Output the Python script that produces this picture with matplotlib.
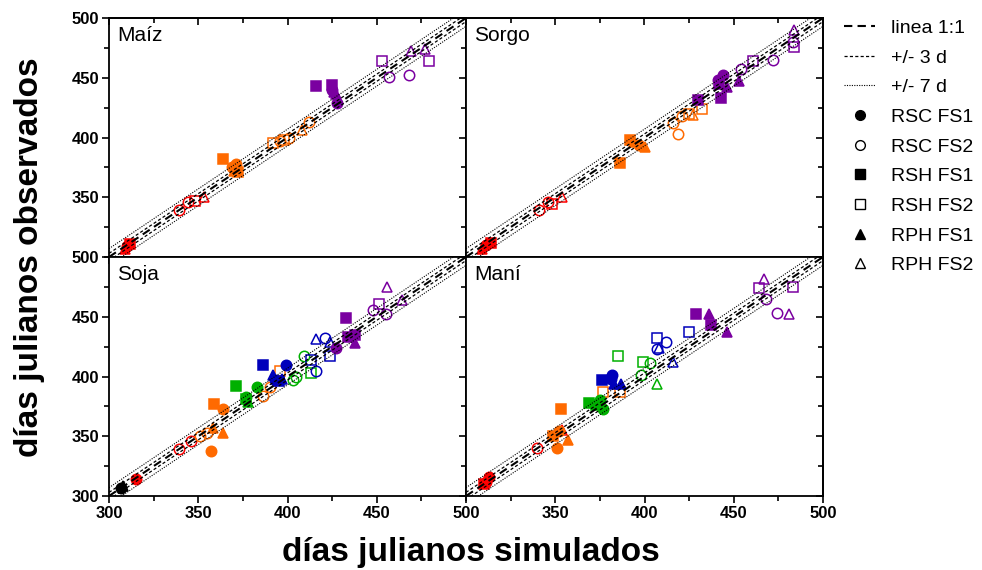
import numpy as np
import matplotlib
matplotlib.use('Agg')
import matplotlib.pyplot as plt
from matplotlib.lines import Line2D
from matplotlib.ticker import MultipleLocator

plt.rcParams['font.family'] = ['Liberation Sans', 'DejaVu Sans']

# colores por etapa fenologica
stage_colors = {'k': '#000000', 'r': '#ff0000', 'o': '#ff6a00',
                'g': '#00b000', 'b': '#0000bb', 'p': '#7a00a0'}

series_names = ['RSC FS1', 'RSC FS2', 'RSH FS1', 'RSH FS2', 'RPH FS1', 'RPH FS2']
series_marker = {'RSC': 'o', 'RSH': 's', 'RPH': '^'}

# (etapa, serie, simulado, observado)
maiz = [
    ('r', 'RSC FS1', 310, 309), ('r', 'RSH FS1', 312, 311), ('r', 'RPH FS1', 309, 307),
    ('r', 'RSC FS2', 339, 339), ('r', 'RSC FS2', 344, 346), ('r', 'RSH FS2', 348, 347),
    ('r', 'RPH FS2', 353, 350),
    ('o', 'RSH FS1', 364, 382), ('o', 'RSC FS1', 371, 378), ('o', 'RPH FS1', 370, 372),
    ('o', 'RSH FS1', 372, 371), ('o', 'RSC FS1', 369, 375),
    ('o', 'RSH FS2', 392, 395), ('o', 'RSC FS2', 396, 397), ('o', 'RSC FS2', 401, 400),
    ('o', 'RPH FS2', 408, 406), ('o', 'RSC FS2', 412, 413), ('o', 'RSH FS2', 398, 398),
    ('p', 'RSH FS1', 416, 443), ('p', 'RSH FS1', 425, 444), ('p', 'RSC FS1', 425, 440),
    ('p', 'RPH FS1', 427, 436), ('p', 'RSC FS1', 428, 429), ('p', 'RPH FS1', 426, 438),
    ('p', 'RSH FS2', 453, 464), ('p', 'RSC FS2', 457, 451), ('p', 'RSC FS2', 468, 452),
    ('p', 'RPH FS2', 469, 472), ('p', 'RPH FS2', 477, 474), ('p', 'RSH FS2', 479, 464),
]

sorgo = [
    ('r', 'RSC FS1', 311, 310), ('r', 'RPH FS1', 309, 307), ('r', 'RSH FS1', 314, 312),
    ('r', 'RSC FS2', 341, 339), ('r', 'RSC FS2', 346, 346), ('r', 'RSH FS2', 348, 344),
    ('r', 'RPH FS2', 354, 350),
    ('o', 'RSH FS1', 386, 379), ('o', 'RSH FS1', 392, 398), ('o', 'RPH FS1', 394, 396),
    ('o', 'RSC FS1', 397, 394), ('o', 'RPH FS1', 400, 392),
    ('o', 'RSC FS2', 416, 412), ('o', 'RSC FS2', 419, 403), ('o', 'RSC FS2', 421, 418),
    ('o', 'RPH FS2', 427, 419), ('o', 'RSH FS2', 432, 424), ('o', 'RSH FS2', 425, 420),
    ('p', 'RSH FS1', 430, 431), ('p', 'RSH FS1', 443, 433), ('p', 'RSC FS1', 444, 452),
    ('p', 'RSH FS1', 442, 445), ('p', 'RPH FS1', 446, 442), ('p', 'RPH FS1', 453, 447),
    ('p', 'RSC FS1', 441, 448),
    ('p', 'RSC FS2', 454, 457), ('p', 'RSH FS2', 461, 464), ('p', 'RSC FS2', 472, 465),
    ('p', 'RPH FS2', 484, 490), ('p', 'RSH FS2', 484, 476), ('p', 'RSC FS2', 483, 480),
]

soja = [
    ('k', 'RPH FS1', 308, 308), ('k', 'RSC FS1', 307, 307),
    ('r', 'RSC FS1', 315, 314),
    ('r', 'RSC FS2', 339, 339), ('r', 'RSC FS2', 346, 346),
    ('o', 'RSC FS2', 351, 350), ('o', 'RSC FS2', 355, 353), ('o', 'RSC FS2', 386, 384),
    ('o', 'RSC FS2', 390, 391), ('o', 'RSH FS2', 396, 405),
    ('o', 'RSC FS1', 357, 338), ('o', 'RPH FS1', 364, 353), ('o', 'RSH FS1', 359, 377),
    ('o', 'RSC FS1', 364, 373), ('o', 'RPH FS1', 358, 357),
    ('g', 'RSH FS1', 371, 392), ('g', 'RSC FS1', 377, 383), ('g', 'RSC FS1', 383, 391),
    ('g', 'RPH FS1', 378, 379), ('g', 'RSH FS1', 377, 381),
    ('b', 'RSH FS1', 386, 410), ('b', 'RSC FS1', 399, 410), ('b', 'RPH FS1', 392, 401),
    ('b', 'RSH FS1', 395, 396), ('b', 'RPH FS1', 397, 398), ('b', 'RSC FS1', 393, 397),
    ('g', 'RSC FS2', 403, 397), ('g', 'RSC FS2', 409, 417), ('g', 'RSH FS2', 413, 403),
    ('g', 'RSC FS2', 405, 400),
    ('b', 'RSC FS2', 416, 405), ('b', 'RSH FS2', 413, 414), ('b', 'RPH FS2', 416, 431),
    ('b', 'RSC FS2', 421, 432), ('b', 'RPH FS2', 424, 429), ('b', 'RSH FS2', 424, 417),
    ('p', 'RSH FS1', 433, 449), ('p', 'RSC FS1', 427, 424), ('p', 'RSH FS1', 434, 433),
    ('p', 'RSH FS1', 438, 435), ('p', 'RPH FS1', 438, 428), ('p', 'RSC FS1', 436, 434),
    ('p', 'RSC FS2', 448, 456), ('p', 'RSH FS2', 451, 461), ('p', 'RSC FS2', 455, 452),
    ('p', 'RPH FS2', 456, 475), ('p', 'RPH FS2', 464, 464),
]

mani = [
    ('r', 'RSC FS1', 311, 312), ('r', 'RSC FS1', 313, 316), ('r', 'RSH FS1', 310, 310),
    ('r', 'RSC FS2', 340, 340), ('r', 'RPH FS2', 354, 355),
    ('o', 'RSH FS1', 353, 373), ('o', 'RSH FS1', 349, 350), ('o', 'RSC FS1', 351, 340),
    ('o', 'RSC FS1', 352, 354), ('o', 'RPH FS1', 357, 347),
    ('o', 'RSH FS2', 377, 387), ('o', 'RSH FS2', 386, 387),
    ('g', 'RSH FS1', 369, 378), ('g', 'RSC FS1', 375, 380), ('g', 'RSC FS1', 377, 373),
    ('g', 'RSH FS1', 373, 376),
    ('b', 'RSH FS1', 376, 397), ('b', 'RSC FS1', 382, 401), ('b', 'RPH FS1', 383, 394),
    ('b', 'RPH FS1', 387, 394), ('b', 'RSC FS1', 381, 398),
    ('g', 'RSH FS2', 385, 417), ('g', 'RSH FS2', 399, 412), ('g', 'RSC FS2', 403, 411),
    ('g', 'RSC FS2', 398, 401), ('g', 'RPH FS2', 407, 394),
    ('b', 'RSH FS2', 407, 432), ('b', 'RSC FS2', 412, 429), ('b', 'RSC FS2', 407, 423),
    ('b', 'RPH FS2', 408, 424), ('b', 'RPH FS2', 416, 412), ('b', 'RSH FS2', 425, 437),
    ('p', 'RSH FS1', 429, 452), ('p', 'RPH FS1', 436, 452), ('p', 'RSH FS1', 437, 443),
    ('p', 'RPH FS1', 446, 437),
    ('p', 'RSH FS2', 464, 474), ('p', 'RPH FS2', 467, 482), ('p', 'RSC FS2', 468, 465),
    ('p', 'RSC FS2', 474, 453), ('p', 'RPH FS2', 481, 452), ('p', 'RSH FS2', 483, 475),
]

panels = [('Maíz', maiz), ('Sorgo', sorgo), ('Soja', soja), ('Maní', mani)]

line_offsets = {'linea 1:1': [0], '+/- 3 d': [3, -3], '+/- 7 d': [7, -7]}
line_styles = {'linea 1:1': dict(lw=1.5, dashes=(4, 2.5)),
               '+/- 3 d': dict(lw=0.9, dashes=(2.5, 1.8)),
               '+/- 7 d': dict(lw=0.8, dashes=(1, 1.2))}

lims = (300, 500)


def marker_size(mk):
    return 7 if mk == 's' else 7.5


def draw_points(ax, rows):
    for stage, serie, xs, ys in rows:
        mk = series_marker[serie[:3]]
        col = stage_colors[stage]
        filled = serie.endswith('FS1')
        ax.plot(xs, ys, ls='', marker=mk, ms=marker_size(mk),
                mfc=col if filled else 'none', mec=col, mew=1.1, zorder=2)


def draw_lines(ax):
    xx = np.array(lims, dtype=float)
    for name, offs in line_offsets.items():
        for off in offs:
            ax.plot(xx, xx + off, color='black', zorder=3, **line_styles[name])


fig = plt.figure(figsize=(9.82, 5.70), dpi=100)
x0, xm, x1 = 109 / 982, 466 / 982, 824 / 982
y0, ym, y1 = 1 - 496 / 570, 1 - 257 / 570, 1 - 18 / 570
boxes = [(x0, ym), (xm, ym), (x0, y0), (xm, y0)]
w, h = xm - x0, y1 - ym

for i, ((title, rows), (bx, by)) in enumerate(zip(panels, boxes)):
    ax = fig.add_axes([bx, by, w, h])
    draw_points(ax, rows)
    draw_lines(ax)
    ax.set_xlim(lims)
    ax.set_ylim(lims)
    ax.text(0.022, 0.965, title, transform=ax.transAxes, fontsize=15,
            va='top', ha='left')
    for sp in ax.spines.values():
        sp.set_linewidth(1.3)
    ax.xaxis.set_major_locator(MultipleLocator(50))
    ax.xaxis.set_minor_locator(MultipleLocator(25))
    ax.yaxis.set_major_locator(MultipleLocator(50))
    ax.yaxis.set_minor_locator(MultipleLocator(25))
    ax.tick_params(which='major', direction='out', length=5, width=1.2,
                   labelsize=12, pad=2)
    ax.tick_params(which='minor', direction='out', length=3.5, width=1.2)
    top = i < 2
    left = i % 2 == 0
    if top:
        ax.tick_params(labelbottom=False)
        sec = ax.secondary_xaxis('top')
        sec.xaxis.set_major_locator(MultipleLocator(50))
        sec.xaxis.set_minor_locator(MultipleLocator(25))
        sec.tick_params(which='major', direction='in', length=5, width=1.2, labeltop=False)
        sec.tick_params(which='minor', direction='in', length=3.5, width=1.2)
        sec.spines['top'].set_linewidth(1.3)
    elif not left:
        ax.set_xticks([350, 400, 450, 500])
    if left:
        if top:
            ax.set_yticks([350, 400, 450, 500])
    else:
        ax.tick_params(labelleft=False)
        sec = ax.secondary_yaxis('right')
        sec.yaxis.set_major_locator(MultipleLocator(50))
        sec.yaxis.set_minor_locator(MultipleLocator(25))
        sec.tick_params(which='major', direction='in', length=5, width=1.2, labelright=False)
        sec.tick_params(which='minor', direction='in', length=3.5, width=1.2)
        sec.spines['right'].set_linewidth(1.3)
    for lab in ax.get_xticklabels() + ax.get_yticklabels():
        lab.set_fontweight('bold')

fig.text(30 / 982, ym, 'días julianos observados', rotation=90, fontsize=24,
         fontweight='bold', ha='center', va='center')
fig.text(471 / 982, 1 - 552 / 570, 'días julianos simulados', fontsize=24,
         fontweight='bold', ha='center', va='center')

handles = []
for name in line_offsets:
    handles.append(Line2D([], [], color='black', **line_styles[name]))
for s in series_names:
    mk = series_marker[s[:3]]
    handles.append(Line2D([], [], ls='', marker=mk, ms=marker_size(mk) - 0.5,
                          mfc='black' if s.endswith('FS1') else 'none',
                          mec='black', mew=1.0))
labels = list(line_offsets) + series_names
fig.legend(handles, labels, loc='upper left', bbox_to_anchor=(0.846, 0.99),
           frameon=False, fontsize=14, handlelength=1.6, handletextpad=0.8,
           labelspacing=0.62, borderaxespad=0.3)

fig.savefig('out.png', dpi=100)
